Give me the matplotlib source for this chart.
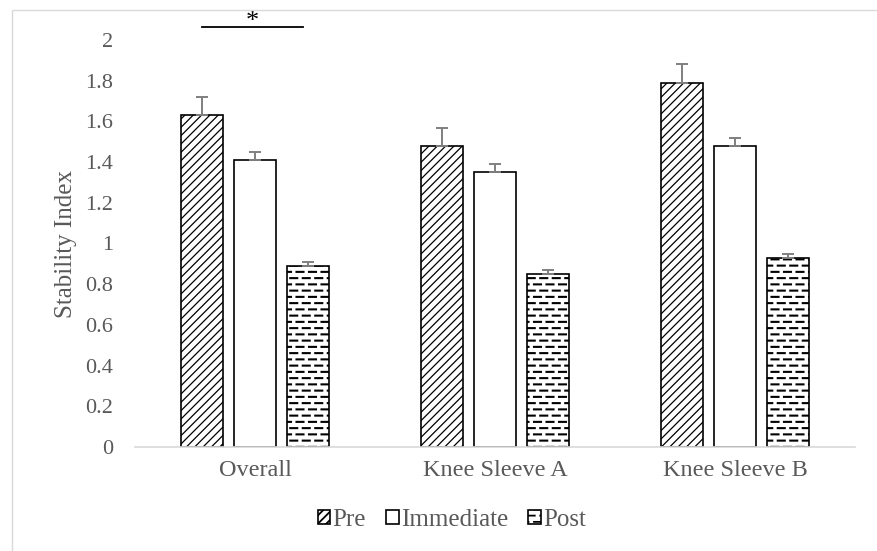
import numpy as np
import matplotlib
matplotlib.use("Agg")
import matplotlib.pyplot as plt
import matplotlib.hatch as mhatch
from matplotlib.path import Path
from matplotlib.patches import Rectangle

groups = ["Overall", "Knee Sleeve A", "Knee Sleeve B"]
series = ["Pre", "Immediate", "Post"]
pre = [1.63, 1.48, 1.79]
immediate = [1.41, 1.35, 1.48]
post = [0.89, 0.85, 0.93]
pre_err = [0.09, 0.09, 0.09]
immediate_err = [0.04, 0.04, 0.04]
post_err = [0.02, 0.02, 0.02]
yticks = [0, 0.2, 0.4, 0.6, 0.8, 1, 1.2, 1.4, 1.6, 1.8, 2]
sig_label = "*"


class DashHatch(mhatch.HatchPatternBase):
    # staggered short dashes, like the Excel "dashed horizontal" fill
    rows = 16
    cols = 8

    def __init__(self, hatch, density):
        on = hatch.count('-') > 0
        self.num_vertices = self.rows * (self.cols + 1) * 2 if on else 0

    def set_vertices_and_codes(self, vertices, codes):
        p = 1.0 / self.cols
        segs = []
        for r in range(self.rows):
            y = (r + 0.5) / self.rows
            shift = 0.5 * p if r % 2 else 0.0
            for k in range(self.cols + 1):
                c = k * p + shift
                segs.append((np.clip(c - 0.28 * p, 0, 1), y))
                segs.append((np.clip(c + 0.28 * p, 0, 1), y))
        vertices[:] = np.array(segs)
        codes[0::2] = Path.MOVETO
        codes[1::2] = Path.LINETO


mhatch._hatch_types = [DashHatch if t is mhatch.HorizontalHatch else t
                       for t in mhatch._hatch_types]

plt.rcParams['font.family'] = ['Liberation Serif', 'DejaVu Serif']
plt.rcParams['hatch.linewidth'] = 1.3
plt.rcParams['hatch.color'] = 'black'

txt = '#595959'

fig = plt.figure(figsize=(8.77, 5.51), dpi=100)
ax = fig.add_axes([135 / 877, 1 - 447 / 551, 720 / 877, 407 / 551])

# chart area border
fig.patches.append(Rectangle((12 / 877, -0.1), 1.1, 1.1 - 10 / 551,
                             transform=fig.transFigure, fill=False,
                             edgecolor='#d9d9d9', linewidth=1.0))

x = np.arange(len(groups))
width = 0.175
step = 0.22
values = [pre, immediate, post]
errs = [pre_err, immediate_err, post_err]
hatches = ['////', '', '-']
hatch_lw = [0.9, 1.0, 1.5]

for i, (name, vals, err, h) in enumerate(zip(series, values, errs, hatches)):
    pos = x + (i - 1) * step
    bars = ax.bar(pos, vals, width, color='white', edgecolor='black',
                  linewidth=1.2, hatch=h, label=name, zorder=2)
    for b in bars:
        try:
            b.set_hatch_linewidth(hatch_lw[i])
        except AttributeError:
            pass
    ax.errorbar(pos, vals, yerr=[np.zeros(len(vals)), err], fmt='none',
                ecolor='#7f7f7f', elinewidth=1.4, capsize=4.5, capthick=1.4,
                zorder=3)

# significance bracket over the Overall group
x0 = x[0] - step
x1 = x[0] + step - 0.02
ax.plot([x0, x1], [2.064, 2.064], color='black', linewidth=1.3,
        clip_on=False)
ax.text((x0 + x1) / 2, 2.058, sig_label, ha='center', va='baseline',
        fontsize=19, color='black', clip_on=False)

ax.set_xlim(-0.5, 2.5)
ax.set_ylim(0, 2)
ax.set_yticks(yticks)
ax.set_yticklabels([f"{v:g}" for v in yticks])
ax.set_xticks(x)
ax.set_xticklabels(groups)
ax.tick_params(length=0, colors=txt)
ax.tick_params(axis='y', labelsize=16, pad=16)
ax.tick_params(axis='x', labelsize=17.5, pad=9)
for s in ['top', 'right', 'left']:
    ax.spines[s].set_visible(False)
ax.spines['bottom'].set_color('#d9d9d9')
ax.spines['bottom'].set_linewidth(1.2)
ax.set_ylabel("Stability Index", fontsize=18, color=txt, labelpad=6)

fig.legend(loc='center', bbox_to_anchor=(452 / 877, 1 - 520 / 551),
           ncol=3, frameon=False, fontsize=18, labelcolor=txt,
           handlelength=0.5, handleheight=0.5, handletextpad=0.1,
           columnspacing=0.8)

fig.savefig("out.png", dpi=100)
